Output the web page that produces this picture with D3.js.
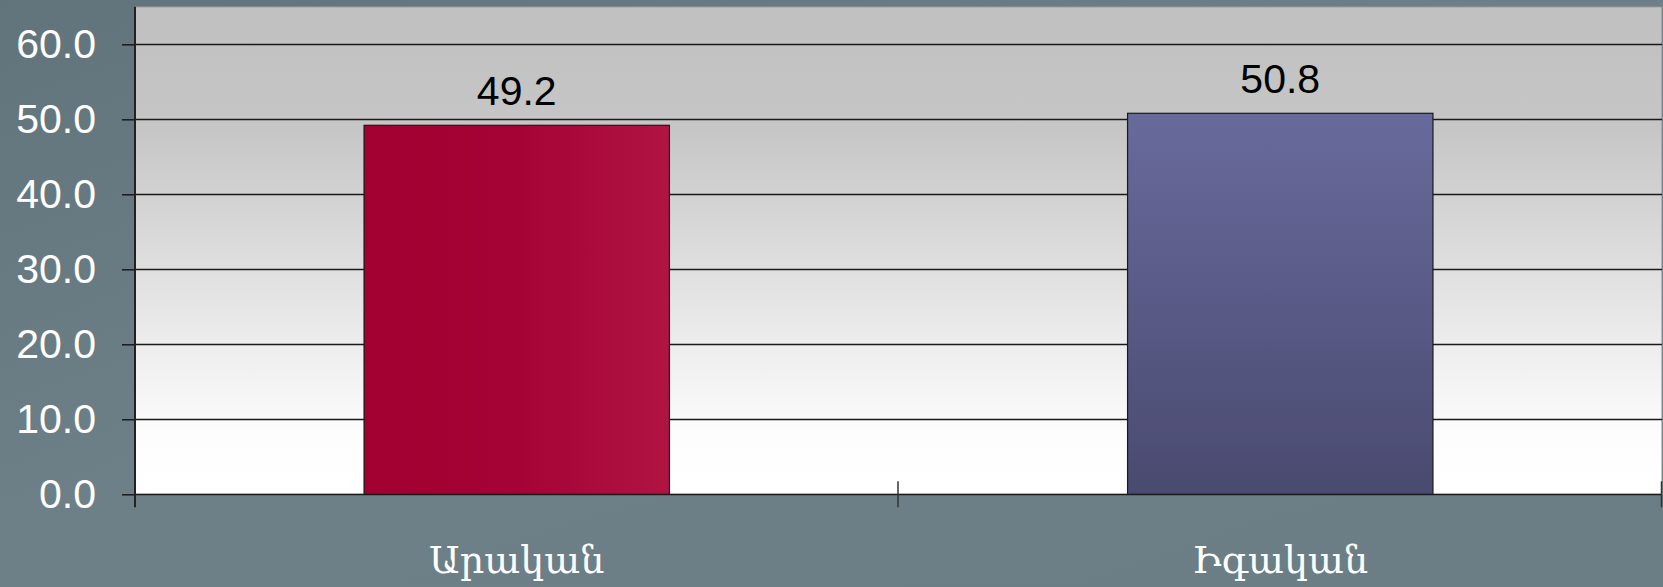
<!DOCTYPE html>
<html>
<head>
<meta charset="utf-8">
<script src="https://cdn.jsdelivr.net/npm/d3@7"></script>
<style>
  html, body { margin: 0; padding: 0; background: #6d7f86; }
  svg { display: block; }
</style>
</head>
<body>
<svg id="chart" width="1663" height="587"></svg>
<script>
const categories = ["Արական", "Իգական"];
const values = [49.2, 50.8];
const yTicks = [0, 10, 20, 30, 40, 50, 60];
const yMax = 65;

const W = 1663, H = 587;
const margin = { left: 135, right: 1, top: 7, bottom: 92.7 };
const plotL = margin.left, plotR = W - margin.right;
const svg = d3.select("#chart");
const defs = svg.append("defs");

// background gradient
const bg = defs.append("linearGradient").attr("id", "bg").attr("x1", 0).attr("y1", 0).attr("x2", 1).attr("y2", 1);
bg.append("stop").attr("offset", "0%").attr("stop-color", "#62747b");
bg.append("stop").attr("offset", "45%").attr("stop-color", "#6e8087");
bg.append("stop").attr("offset", "100%").attr("stop-color", "#6c7e85");
svg.append("rect").attr("width", W).attr("height", H).attr("fill", "url(#bg)");

// plot gradient
const pg = defs.append("linearGradient").attr("id", "plotg").attr("x1", 0).attr("y1", 0).attr("x2", 0).attr("y2", 1);
pg.append("stop").attr("offset", "0%").attr("stop-color", "#c0c0c0");
pg.append("stop").attr("offset", "25%").attr("stop-color", "#c6c6c6");
pg.append("stop").attr("offset", "88%").attr("stop-color", "#fdfdfd");
pg.append("stop").attr("offset", "100%").attr("stop-color", "#ffffff");

const redG = defs.append("linearGradient").attr("id", "redg").attr("x1", 0).attr("y1", 0).attr("x2", 1).attr("y2", 0);
redG.append("stop").attr("offset", "0%").attr("stop-color", "#a20031");
redG.append("stop").attr("offset", "50%").attr("stop-color", "#a50335");
redG.append("stop").attr("offset", "100%").attr("stop-color", "#b01443");

const blueG = defs.append("linearGradient").attr("id", "blueg").attr("x1", 0).attr("y1", 0).attr("x2", 0).attr("y2", 1);
blueG.append("stop").attr("offset", "0%").attr("stop-color", "#686a9c");
blueG.append("stop").attr("offset", "100%").attr("stop-color", "#4a4a70");

const fills = ["url(#redg)", "url(#blueg)"];

const y = d3.scaleLinear().domain([0, yMax]).range([494.3, 494.3 - yMax * 7.5]);
const x = d3.scaleBand().domain(categories).range([plotL, plotR]).padding(0);

// plot area
svg.append("rect")
  .attr("x", plotL).attr("y", y(yMax))
  .attr("width", plotR - plotL).attr("height", y(0) - y(yMax))
  .attr("fill", "url(#plotg)")
  .attr("stroke", "#8a8a8a").attr("stroke-width", 1);

// gridlines
svg.append("g").selectAll("line").data(yTicks).join("line")
  .attr("x1", plotL).attr("x2", plotR)
  .attr("y1", d => Math.round(y(d)) + 0.5).attr("y2", d => Math.round(y(d)) + 0.5)
  .attr("stroke", "#1a1a1a").attr("stroke-width", 1.5);

// y axis
const yAxis = d3.axisLeft(y).tickValues(yTicks).tickFormat(d3.format(".1f")).tickSize(13).tickPadding(26);
const ya = svg.append("g").attr("transform", `translate(${plotL},0)`).call(yAxis);
ya.select(".domain").remove();
ya.selectAll(".tick line").attr("stroke", "#1a1a1a").attr("stroke-width", 1.5);
ya.selectAll(".tick text").attr("fill", "#ffffff")
  .style("font-family", "'Liberation Sans', Arial, sans-serif").style("font-size", "41px");

// y axis line
svg.append("line").attr("x1", plotL).attr("x2", plotL).attr("y1", y(yMax)).attr("y2", y(0) + 13)
  .attr("stroke", "#222").attr("stroke-width", 2);

// x axis category boundary ticks
const bounds = [plotL, x(categories[1]), plotR];
svg.append("g").selectAll("line").data(bounds.slice(1)).join("line")
  .attr("x1", d => d - 0.5).attr("x2", d => d - 0.5)
  .attr("y1", y(0) - 13).attr("y2", y(0) + 13)
  .attr("stroke", "#333").attr("stroke-width", 1.5);

// bars
const barW = x.bandwidth() * 0.4;
svg.append("g").selectAll("rect").data(values).join("rect")
  .attr("x", (d, i) => x(categories[i]) + (x.bandwidth() - barW) / 2)
  .attr("y", d => y(d))
  .attr("width", barW)
  .attr("height", d => y(0) - y(d))
  .attr("fill", (d, i) => fills[i])
  .attr("stroke", "#1a1a1a").attr("stroke-width", 1.2);

// value labels
svg.append("g").selectAll("text").data(values).join("text")
  .attr("x", (d, i) => x(categories[i]) + x.bandwidth() / 2)
  .attr("y", d => y(d) - 20.5)
  .attr("text-anchor", "middle")
  .attr("fill", "#000")
  .style("font-family", "'Liberation Sans', Arial, sans-serif").style("font-size", "41px")
  .text(d => d.toFixed(1));

// category labels
svg.append("g").selectAll("text").data(categories).join("text")
  .attr("x", d => x(d) + x.bandwidth() / 2)
  .attr("y", 573)
  .attr("text-anchor", "middle")
  .attr("fill", "#ffffff")
  .style("font-family", "'DejaVu Serif', serif").style("font-size", "38px")
  .text(d => d);
</script>
</body>
</html>
